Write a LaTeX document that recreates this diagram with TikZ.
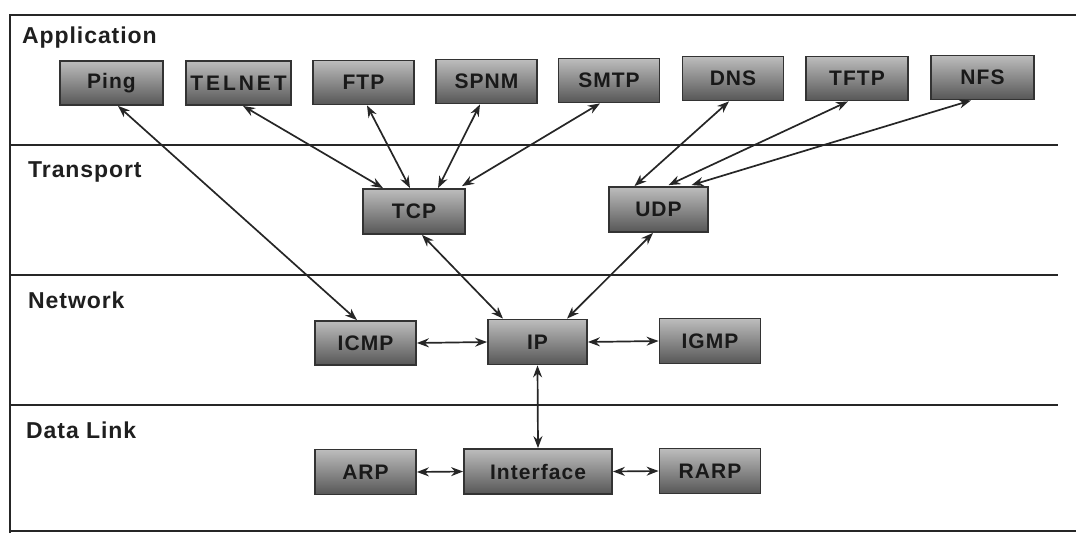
\documentclass[tikz,border=0pt]{standalone}
\usepackage{fontspec}
\setmainfont{Liberation Sans}
\newfontfamily\labelfont[LetterSpace=4]{Liberation Sans Bold}
\newfontfamily\protofont[LetterSpace=5]{Liberation Sans Bold}
\newfontfamily\widefont[LetterSpace=14]{Liberation Sans Bold}
\usetikzlibrary{arrows.meta}

\tikzset{
  layerline/.style={draw=black!85, line width=2pt},
  layername/.style={anchor=base west, inner sep=0pt, text=black!88,
    font=\labelfont\fontsize{23}{26}\selectfont},
  proto/.style={draw=black!80, line width=1.8pt, top color=black!26, bottom color=black!66,
    minimum width=101pt, minimum height=44pt, inner sep=0pt, text=black!90,
    font=\protofont\fontsize{21}{24}\selectfont},
  link/.style={{Stealth[length=12pt,width=9pt]}-{Stealth[length=12pt,width=9pt]},
    line width=1.7pt, draw=black!85},
}

\begin{document}
\begin{tikzpicture}[x=1pt,y=-1pt]
\useasboundingbox (0,0) rectangle (1076,533);

% layer frame
\draw[layerline] (10,533) -- (10,15) -- (1076,15);
\draw[layerline] (10,145) -- (1058,145);
\draw[layerline] (10,275) -- (1058,275);
\draw[layerline] (10,405) -- (1058,405);
\draw[layerline] (10,531) -- (1076,531);

% layer names
\node[layername] (lapp) at (22,43) {Application};
\node[layername] (ltra) at (28,177) {Transport};
\node[layername] (lnet) at (28,308) {Network};
\node[layername] (llnk) at (26,438) {Data Link};

% application layer
\node[proto, minimum width=103pt] (ping) at (111.5,83) {Ping};
\node[proto, minimum width=105pt, font=\widefont\fontsize{21}{24}\selectfont] (telnet) at (238.5,83) {TELNET};
\node[proto] (ftp) at (363.5,82.5) {FTP};
\node[proto] (spnm) at (486.5,81.5) {SPNM};
\node[proto] (smtp) at (609,80.5) {SMTP};
\node[proto] (dns) at (733,78.5) {DNS};
\node[proto, minimum width=102pt] (tftp) at (857,78.5) {TFTP};
\node[proto, minimum width=103pt] (nfs) at (982.5,77.5) {NFS};

% transport layer
\node[proto, minimum width=102pt, minimum height=45pt] (tcp) at (414,211.5) {TCP};
\node[proto, minimum width=99pt, minimum height=45pt] (udp) at (658.5,209.5) {UDP};

% network layer
\node[proto] (icmp) at (365.5,343) {ICMP};
\node[proto, minimum width=99pt, minimum height=45pt] (ip) at (537.5,342) {IP};
\node[proto, minimum height=45pt] (igmp) at (710,341) {IGMP};

% data link layer
\node[proto, minimum height=45pt] (arp) at (365.5,472) {ARP};
\node[proto, minimum width=148pt, minimum height=45pt] (iface) at (538,471.5) {Interface};
\node[proto, minimum height=45pt] (rarp) at (710,471) {RARP};

% application <-> transport / network
\draw[link] ([xshift=6.5pt]ping.south) -- ([xshift=-8.5pt]icmp.north);
\draw[link] ([xshift=4.5pt]telnet.south) -- ([xshift=-31pt]tcp.north);
\draw[link] ([xshift=3.5pt]ftp.south) -- ([xshift=-4pt]tcp.north);
\draw[link] ([xshift=-6.5pt]spnm.south) -- ([xshift=24pt]tcp.north);
\draw[link] ([xshift=-9pt]smtp.south) -- ([xshift=48pt,yshift=2pt]tcp.north);
\draw[link] ([xshift=-4pt]dns.south) -- ([xshift=-24pt]udp.north);
\draw[link] ([xshift=-9pt]tftp.south) -- ([xshift=10pt,yshift=1pt]udp.north);
\draw[link] ([xshift=-11.5pt]nfs.south) -- ([xshift=33pt,yshift=1pt]udp.north);

% transport <-> network
\draw[link] ([xshift=8pt]tcp.south) -- ([xshift=-34.5pt]ip.north);
\draw[link] ([xshift=-5.5pt]udp.south) -- ([xshift=29.5pt]ip.north);

% within network / data link
\draw[link] (icmp.east) -- (ip.west);
\draw[link] (ip.east) -- (igmp.west);
\draw[link] (ip.south) -- (iface.north);
\draw[link] (arp.east) -- (iface.west);
\draw[link] (iface.east) -- (rarp.west);
\end{tikzpicture}
\end{document}
